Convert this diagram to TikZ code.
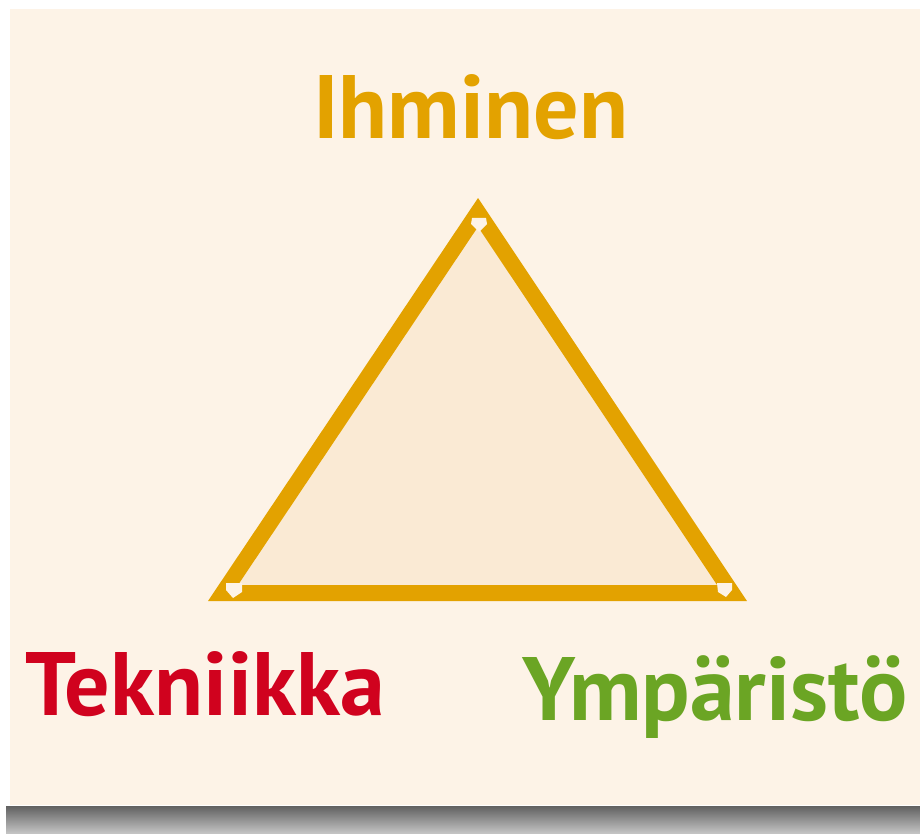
\documentclass[tikz,border=0pt]{standalone}
\usepackage{fontspec}
\setmainfont{PT Sans}
\usepackage{tikz}
\definecolor{cream}{HTML}{FDF3E7}
\definecolor{innerfill}{HTML}{FAEAD4}
\definecolor{gold}{HTML}{E3A200}
\definecolor{techred}{HTML}{D0021E}
\definecolor{envgreen}{HTML}{6BA524}
\tikzstyle{edgeline} = [draw=gold, fill=innerfill, line width=16pt, line join=miter]
\tikzstyle{cornermark} = [fill=cream, draw=none]
\tikzstyle{bigword} = [inner sep=0pt, anchor=base west,
    font=\fontsize{90}{100}\selectfont\bfseries]

\begin{document}
\begin{tikzpicture}[x=1pt,y=-1pt]
                \useasboundingbox (0,0) rectangle (920,834);
                \fill[white] (0,0) rectangle (920,834);
                \fill[cream] (10,9) rectangle (920,805);
                \shade[top color=black!62, bottom color=black!22] (6,806) rectangle (920,834);
                % triangle corners
                \coordinate (top) at (478,212.4);
                \coordinate (left) at (223,593);
                \coordinate (right) at (732,593);
                \draw[edgeline] (top) -- (left) -- (right) -- cycle;
                \fill[cornermark] (472,218) -- (486,218) -- (487,224) -- (479,232) -- (471,224) -- cycle;
                \fill[cornermark] (226,583) -- (242,583) -- (242,592) -- (233,598) -- (226,590) -- cycle;
                \fill[cornermark] (717,583) -- (732,583) -- (732,590) -- (726,597) -- (718,592) -- cycle;
                % labels
                \node[bigword, text=gold] (ihminen) at (313,139) {Ihminen};
                \node[bigword, text=techred] (tekniikka) at (25,715) {Tekniikka};
                \node[bigword, text=envgreen] (ymparisto) at (522,720) {Ympäristö};
            \end{tikzpicture}
\end{document}
